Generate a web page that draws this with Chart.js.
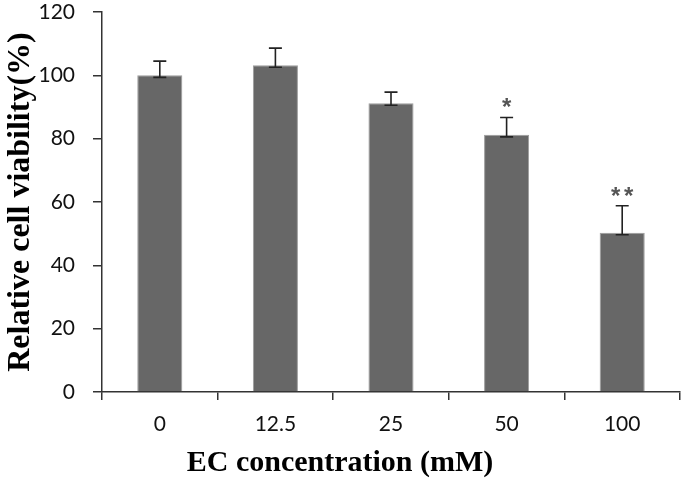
<!DOCTYPE html>
<html>
<head>
<meta charset="utf-8">
<script src="https://cdn.jsdelivr.net/npm/chart.js@4/dist/chart.umd.min.js"></script>
<style>
  html, body { margin: 0; padding: 0; background: #fff; }
  #wrap { width: 684px; height: 486px; }
</style>
</head>
<body>
<div id="wrap"><canvas id="viabilityChart"></canvas></div>
<script>
// values
const concLabels = ['0', '12.5', '25', '50', '100'];
const viability = [100, 103.2, 91.2, 81.2, 50.3];
const errUp = [4.5, 5.4, 3.5, 5.5, 8.5];
const marks = ['', '', '', '*', '**'];
const yTicks = [0, 20, 40, 60, 80, 100, 120];

// error bars + significance stars on top of bars
const errorBars = {
  id: 'errorBars',
  afterDatasetsDraw(chart) {
    const ctx = chart.ctx;
    const y = chart.scales.y;
    const meta = chart.getDatasetMeta(0);
    ctx.save();
    meta.data.forEach((bar, i) => {
      const x = bar.x;
      const yVal = y.getPixelForValue(viability[i]);
      const yTop = y.getPixelForValue(viability[i] + errUp[i]);
      ctx.strokeStyle = '#222';
      ctx.lineWidth = 1.6;
      ctx.beginPath();
      ctx.moveTo(x, yVal + 2);
      ctx.lineTo(x, yTop);
      ctx.moveTo(x - 6.5, yTop);
      ctx.lineTo(x + 6.5, yTop);
      ctx.moveTo(x - 6.5, yVal + 2);
      ctx.lineTo(x + 6.5, yVal + 2);
      ctx.stroke();
      const n = marks[i].length;
      ctx.fillStyle = '#555';
      ctx.font = 'bold 24px "Liberation Sans"';
      ctx.textAlign = 'center';
      ctx.textBaseline = 'alphabetic';
      for (let k = 0; k < n; k++) {
        const dx = (k - (n - 1) / 2) * 13;
        ctx.fillText('*', x + dx, yTop - 2);
      }
    });
    ctx.restore();
  }
};

const config_bar = {
  type: 'bar',
  data: {
    labels: concLabels,
    datasets: [{
      data: viability,
      backgroundColor: '#676767',
      borderColor: '#9c9c9c',
      borderWidth: 1,
      categoryPercentage: 1,
      barPercentage: 0.39
    }]
  },
  options: {
    responsive: true,
    maintainAspectRatio: false,
    animation: false,
    layout: { padding: { top: 12, right: 4, left: 0, bottom: 0 } },
    plugins: {
      legend: { display: false },
      tooltip: { enabled: false },
      // x-axis caption, centred on the whole figure like the original
      title: {
        display: true,
        position: 'bottom',
        text: 'EC concentration (mM)',
        color: '#000',
        font: { family: 'Liberation Serif', size: 30, weight: 'bold', lineHeight: 1.2 },
        padding: { top: 0, bottom: 5 }
      }
    },
    scales: {
      x: {
        grid: { drawOnChartArea: false, drawTicks: true, tickLength: 8, color: '#333', lineWidth: 1.5 },
        border: { color: '#333', width: 1.5 },
        ticks: { color: '#111', font: { family: 'Lato', size: 21 }, padding: 12 },
        afterFit(scale) { scale.height = 53; }
      },
      y: {
        min: 0,
        max: 120,
        afterBuildTicks(scale) { scale.ticks = yTicks.map(v => ({ value: v })); },
        grid: { drawOnChartArea: false, drawTicks: true, tickLength: 9, color: '#333', lineWidth: 1.5 },
        border: { color: '#333', width: 1.5 },
        ticks: { color: '#111', font: { family: 'Lato', size: 21 }, padding: 18 },
        title: {
          display: true,
          text: 'Relative cell viability(%)',
          color: '#000',
          font: { family: 'Liberation Serif', size: 32, weight: 'bold' },
          padding: { top: 2, bottom: 0 }
        },
        afterFit(scale) {
          scale.width = 102;
          scale.paddingTop = 0;
        }
      }
    }
  },
  plugins: [errorBars]
};

let myChart = new Chart(document.getElementById('viabilityChart'), config_bar);
</script>
</body>
</html>
